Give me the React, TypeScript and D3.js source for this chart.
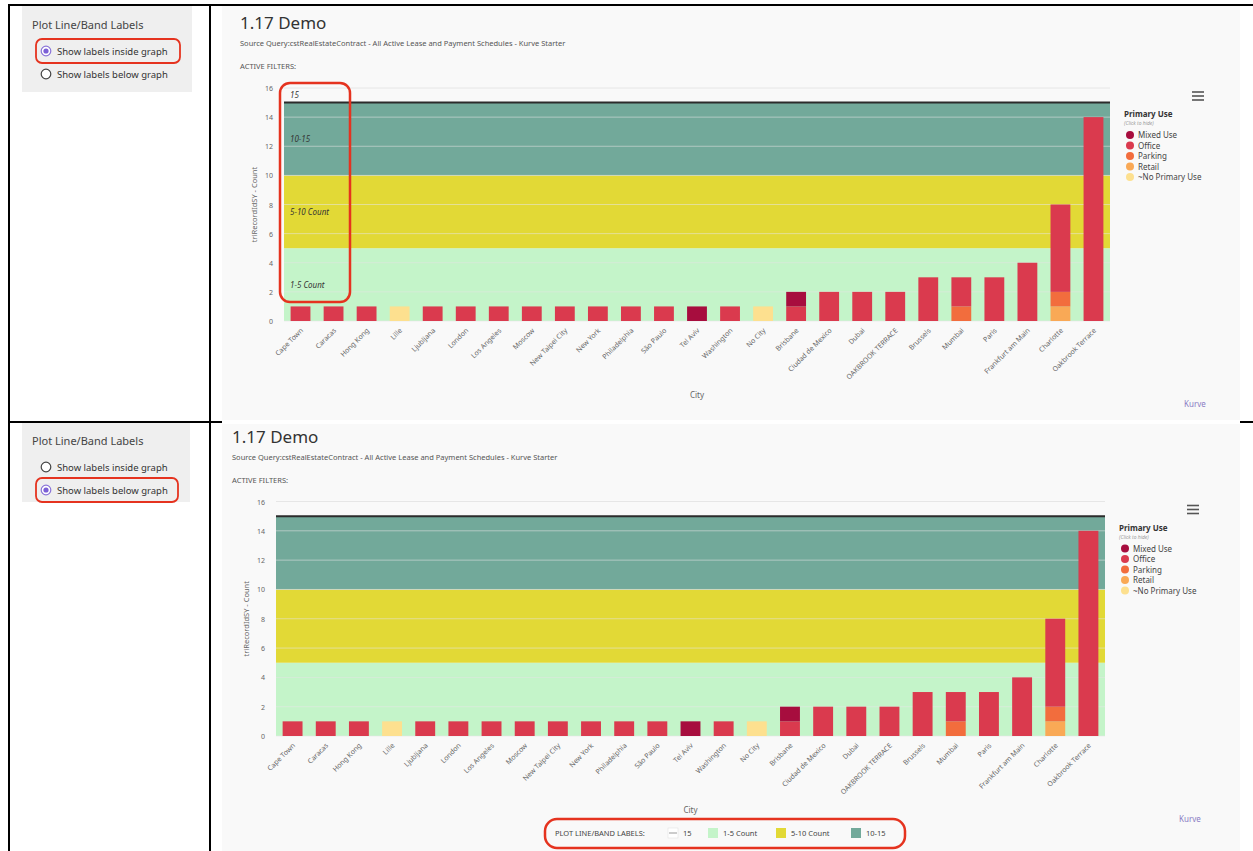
import React from "react";
import * as d3 from "d3";

const categories = ["Cape Town","Caracas","Hong Kong","Lille","Ljubljana","London","Los Angeles","Moscow","New Taipei City","New York","Philadelphia","São Paulo","Tel Aviv","Washington","No City","Brisbane","Ciudad de Mexico","Dubai","OAKBROOK TERRACE","Brussels","Mumbai","Paris","Frankfurt am Main","Charlotte","Oakbrook Terrace"];
const mixedUse =     [0,0,0,0,0,0,0,0,0,0,0,0,1,0,0,1,0,0,0,0,0,0,0,0,0];
const office =       [1,1,1,0,1,1,1,1,1,1,1,1,0,1,0,1,2,2,2,3,2,3,4,6,14];
const parking =      [0,0,0,0,0,0,0,0,0,0,0,0,0,0,0,0,0,0,0,0,1,0,0,1,0];
const retail =       [0,0,0,0,0,0,0,0,0,0,0,0,0,0,0,0,0,0,0,0,0,0,0,1,0];
const noPrimaryUse = [0,0,0,1,0,0,0,0,0,0,0,0,0,0,1,0,0,0,0,0,0,0,0,0,0];

const seriesNames = ["Mixed Use","Office","Parking","Retail","~No Primary Use"];
const seriesColors = ["#a70d3e","#da3a4e","#f26d3d","#f9a956","#fde08f"];
const seriesValues = [mixedUse, office, parking, retail, noPrimaryUse];

const bandFrom = [0,5,10];
const bandTo = [5,10,15];
const bandLabels = ["1-5 Count","5-10 Count","10-15"];
const bandColors = ["#c4f4c9","#e2d936","#72a99a"];
const plotLineValue = 15;
const plotLineLabel = "15";
const yTicks = [0,2,4,6,8,10,12,14,16];

const FONT = "'Noto Sans', 'Open Sans', sans-serif";

type ChartProps = { tx: number; ty: number; w: number; h: number; inside: boolean };

function Chart({ tx, ty, w, h, inside }: ChartProps) {
  const x = d3.scaleBand<string>().domain(categories).range([0, w]).paddingInner(0.4).paddingOuter(0.2);
  const y = d3.scaleLinear().domain([0, 16]).range([h, 0]);
  const rows = categories.map((c, i) => {
    const r: any = { city: c };
    seriesNames.forEach((s, k) => (r[s] = seriesValues[k][i]));
    return r;
  });
  const keys = [...seriesNames].reverse();
  const stacked = d3.stack<any>().keys(keys)(rows);
  const colorOf = (k: string) => seriesColors[seriesNames.indexOf(k)];

  return (
    <g transform={`translate(${tx},${ty})`} fontFamily={FONT}>
      <text x={-44} y={-59} fontSize={17} fill="#333">1.17 Demo</text>
      <text x={-44} y={-42} fontSize={7.5} fill="#555">Source Query:cstRealEstateContract - All Active Lease and Payment Schedules - Kurve Starter</text>
      <text x={-44} y={-19} fontSize={7.5} fill="#555">ACTIVE FILTERS:</text>

      {bandFrom.map((f, i) => (
        <rect key={"b" + i} x={0} width={w} y={y(bandTo[i])} height={y(bandFrom[i]) - y(bandTo[i])} fill={bandColors[i]} />
      ))}
      {yTicks.map((t) => (
        <line key={"g" + t} x1={0} x2={w} y1={y(t)} y2={y(t)} stroke="#e6e6e6" strokeOpacity={t === 16 ? 1 : 0.55} strokeWidth={1} />
      ))}
      <line x1={0} x2={w} y1={y(plotLineValue)} y2={y(plotLineValue)} stroke="#2b2b2b" strokeWidth={2} />

      {stacked.map((layer) =>
        layer.map((d, i) =>
          d[1] - d[0] > 0 ? (
            <rect key={layer.key + i} x={x(categories[i])} width={x.bandwidth()} y={y(d[1])} height={y(d[0]) - y(d[1])} fill={colorOf(layer.key)} />
          ) : null
        )
      )}

      {inside && (
        <g fontStyle="italic" fontSize={8} fill="#333">
          <text x={6} y={y(plotLineValue) - 5}>{plotLineLabel}</text>
          {bandFrom.map((f, i) => (
            <text key={"bl" + i} x={6} y={(y(bandFrom[i]) + y(bandTo[i])) / 2 + 3}>{bandLabels[i]}</text>
          ))}
          <rect x={-4} y={-5} width={70} height={219} rx={10} fill="none" stroke="#e5331f" strokeWidth={2.5} />
        </g>
      )}

      {yTicks.map((t) => (
        <text key={"yt" + t} x={-11} y={y(t) + 3} textAnchor="end" fontSize={7} fill="#666">{t}</text>
      ))}
      <text transform={`translate(-27,${h / 2}) rotate(-90)`} textAnchor="middle" fontSize={7.5} fill="#666">triRecordIdSY - Count</text>

      {categories.map((c) => {
        const cx = (x(c) as number) + x.bandwidth() / 2 + 3;
        return (
          <text key={"xl" + c} transform={`translate(${cx},${h + 10}) rotate(-45)`} textAnchor="end" fontSize={7} fill="#666">{c}</text>
        );
      })}
      <text x={w / 2} y={h + 77} textAnchor="middle" fontSize={8} fill="#666">City</text>
      <text x={w + 85} y={h + 86} textAnchor="middle" fontSize={8} fill="#8a7cc4">Kurve</text>

      <g stroke="#555" strokeWidth={1.6}>
        <line x1={w + 82} x2={w + 94} y1={4} y2={4} />
        <line x1={w + 82} x2={w + 94} y1={8} y2={8} />
        <line x1={w + 82} x2={w + 94} y1={12} y2={12} />
      </g>
      <text x={w + 14} y={29} fontSize={8} fontWeight="bold" fill="#333">Primary Use</text>
      <text x={w + 14} y={37} fontSize={5} fontStyle="italic" fill="#999">(Click to hide)</text>
      {seriesNames.map((s, i) => (
        <g key={"lg" + s}>
          <circle cx={w + 20} cy={47 + i * 10.5} r={4} fill={seriesColors[i]} />
          <text x={w + 28} y={50 + i * 10.5} fontSize={8} fill="#444">{s}</text>
        </g>
      ))}

      {!inside && (
        <g fontSize={7.5} fill="#444">
          <text x={279} y={h + 100}>PLOT LINE/BAND LABELS:</text>
          <rect x={392} y={h + 92} width={10} height={10} fill="#fff" stroke="#ddd" strokeWidth={0.5} />
          <line x1={393} x2={401} y1={h + 97} y2={h + 97} stroke="#999" strokeWidth={1} />
          <text x={407} y={h + 100}>{plotLineLabel}</text>
          {bandLabels.map((b, i) => {
            const bx = [432, 500, 575][i];
            return (
              <g key={"bb" + b}>
                <rect x={bx} y={h + 92} width={10} height={10} fill={bandColors[i]} />
                <text x={bx + 15} y={h + 100}>{b}</text>
              </g>
            );
          })}
          <rect x={269} y={h + 83} width={360} height={29} rx={12} fill="none" stroke="#e5331f" strokeWidth={2.5} />
        </g>
      )}
    </g>
  );
}

function OptionPanel({ x, y, w, h, selected }: { x: number; y: number; w: number; h: number; selected: number }) {
  const opts = ["Show labels inside graph", "Show labels below graph"];
  return (
    <g fontFamily={FONT}>
      <rect x={x} y={y} width={w} height={h} fill="#efefef" />
      <text x={x + 10} y={y + 23} fontSize={11} fill="#444">Plot Line/Band Labels</text>
      {opts.map((o, i) => {
        const cy = y + 45 + i * 23;
        return (
          <g key={o}>
            <circle cx={x + 24} cy={cy} r={4.8} fill="#fff" stroke={i === selected ? "#8a74d8" : "#444"} strokeWidth={1.2} />
            {i === selected && <circle cx={x + 24} cy={cy} r={2.6} fill="#7b5fd6" />}
            <text x={x + 35} y={cy + 3.5} fontSize={9.5} fill="#333">{o}</text>
            {i === selected && (
              <rect x={x + 14} y={cy - 12} width={w - 26} height={24} rx={6} fill="none" stroke="#e5331f" strokeWidth={1.8} />
            )}
          </g>
        );
      })}
    </g>
  );
}

export default function App() {
  return (
    <svg width={1253} height={851} style={{ position: "absolute", left: 0, top: 0, background: "#fff" }}>
      <rect x={222} y={6} width={1018} height={414} fill="#f9f9f9" />
      <rect x={222} y={424} width={1018} height={427} fill="#f9f9f9" />
      <OptionPanel x={22} y={6} w={170} h={86} selected={0} />
      <OptionPanel x={22} y={422} w={168} h={80} selected={1} />
      <Chart tx={284} ty={88} w={826} h={233} inside={true} />
      <Chart tx={276} ty={501.5} w={829} h={234.5} inside={false} />
      <g stroke="#000" strokeWidth={2}>
        <line x1={8} x2={1253} y1={5} y2={5} />
        <line x1={9} x2={9} y1={5} y2={851} />
        <line x1={210} x2={210} y1={5} y2={851} />
        <line x1={8} x2={222} y1={422} y2={422} />
        <line x1={1240} x2={1253} y1={422} y2={422} />
      </g>
    </svg>
  );
}
